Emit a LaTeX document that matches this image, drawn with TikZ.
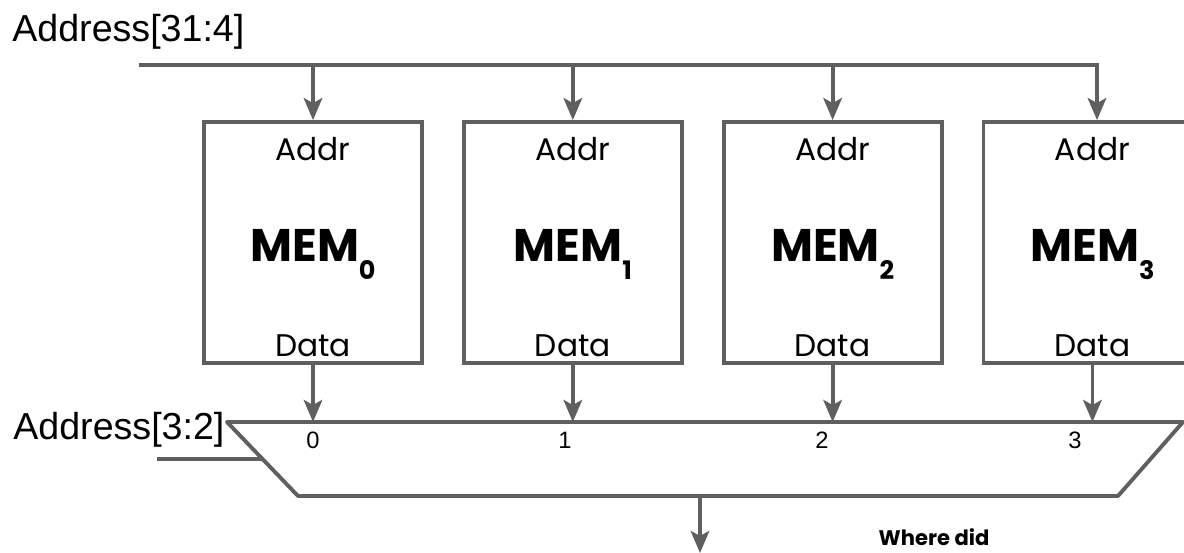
\documentclass[tikz,border=0pt]{standalone}
\usepackage{fontspec}
\setmainfont{Liberation Sans}
\newfontfamily\handfont{Poppins}
\usepackage{tikz}
\usetikzlibrary{arrows.meta, positioning}

\definecolor{wiregray}{HTML}{5F5F5F}
\newcommand{\memname}[1]{{\bfseries MEM\raisebox{-10pt}{\fontsize{14.5}{15}\selectfont #1}}}

\begin{document}
\begin{tikzpicture}[x=0.02cm, y=-0.02cm,
    wire/.style={draw=wiregray, line width=2.2pt},
    arr/.style={wire, -{Stealth[length=0.44cm, width=0.37cm, inset=0.1cm]}},
    membox/.style={draw=wiregray, line width=2.2pt, minimum width=4.36cm, minimum height=4.82cm, inner sep=0pt},
    hand/.style={font=\handfont\fontsize{17.8}{20}\selectfont, anchor=base, inner sep=0pt},
    bighand/.style={font=\handfont\fontsize{26}{28}\selectfont, anchor=base, inner sep=0pt},
    sig/.style={font=\fontsize{21.4}{24}\selectfont, inner sep=0pt},
    port/.style={font=\fontsize{13.5}{15}\selectfont, inner sep=0pt}]
    \clip (0,0) rectangle (1184,553);

    % memory banks
    \node[membox] (mem0) at (313,242.5) {};
    \node[membox, right=0.76cm of mem0] (mem1) {};
    \node[membox, right=0.76cm of mem1] (mem2) {};
    \node[membox, right=0.76cm of mem2] (mem3) {};

    \node[hand] at ([yshift=-0.8cm]mem0.north) {Addr};
    \node[hand] at ([yshift=-0.8cm]mem1.north) {Addr};
    \node[hand] at ([yshift=-0.8cm]mem2.north) {Addr};
    \node[hand] at ([yshift=-0.8cm]mem3.north) {Addr};
    \node[bighand] at ([yshift=-0.39cm]mem0.center) {\memname{0}};
    \node[bighand] at ([yshift=-0.39cm]mem1.center) {\memname{1}};
    \node[bighand] at ([yshift=-0.39cm]mem2.center) {\memname{2}};
    \node[bighand] at ([yshift=-0.39cm]mem3.center) {\memname{3}};
    \node[hand] at ([yshift=0.17cm]mem0.south) {Data};
    \node[hand] at ([yshift=0.17cm]mem1.south) {Data};
    \node[hand] at ([yshift=0.17cm]mem2.south) {Data};
    \node[hand] at ([yshift=0.17cm]mem3.south) {Data};

    % upper address bits go to every bank
    \node[sig, anchor=base west] (hiaddr) at (12,42) {Address[31:4]};
    \coordinate (busL) at (139,65);
    \coordinate (busR) at (1097,65);
    \draw[arr] (busL) -| (busR |- mem3.north);
    \draw[arr] (mem0.north |- busL) -- (mem0.north);
    \draw[arr] (mem1.north |- busL) -- (mem1.north);
    \draw[arr] (mem2.north |- busL) -- (mem2.north);

    % 4:1 mux
    \coordinate (muxtop) at (0,422);
    \draw[wire, line join=round] (227,422) -- (1183,422) -- (1118,496) -- (298,496) -- cycle;
    \draw[arr] (mem0.south) -- (mem0.south |- muxtop);
    \draw[arr] (mem1.south) -- (mem1.south |- muxtop);
    \draw[arr] (mem2.south) -- (mem2.south |- muxtop);
    \draw[arr] (mem3.south) -- (mem3.south |- muxtop);
    \node[port] (p0) at (313,440) {0};
    \node[port] (p1) at (565,440) {1};
    \node[port] (p2) at (822,440) {2};
    \node[port] (p3) at (1075,440) {3};

    % select bits
    \node[sig, anchor=base west] (loaddr) at (13,440) {Address[3:2]};
    \coordinate (selL) at (157,459);
    \coordinate (selR) at (262,459);
    \draw[wire] (selL) -- (selR);

    % output
    \coordinate (muxout) at (700,496);
    \coordinate (dataout) at (700,553);
    \draw[arr] (muxout) -- (dataout);
    \node[font=\handfont\bfseries\fontsize{12}{14}\selectfont, anchor=base, inner sep=0pt] (note) at (934,546) {Where did};
\end{tikzpicture}
\end{document}
